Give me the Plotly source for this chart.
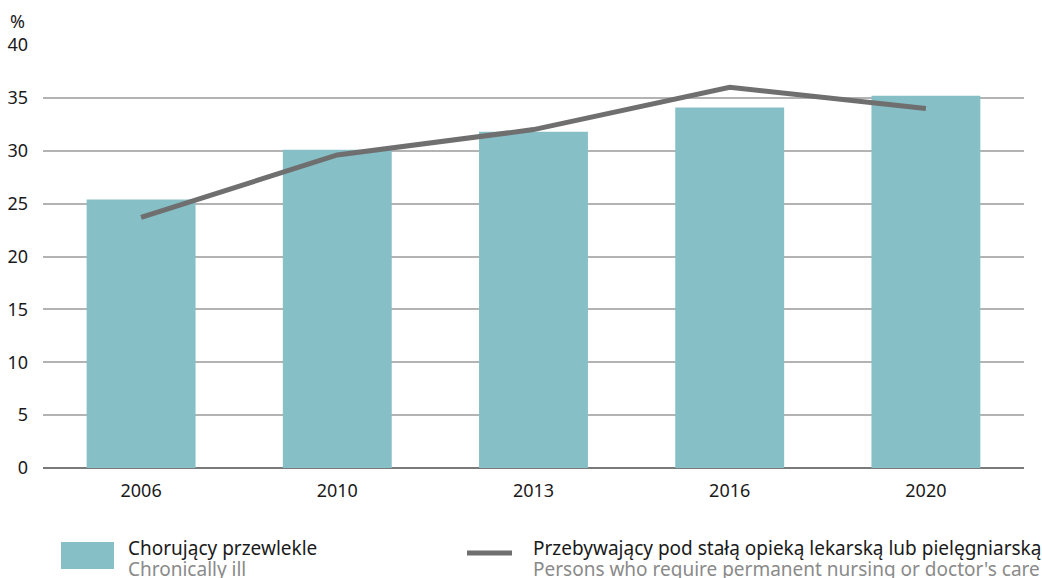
import plotly.graph_objects as go

years = ["2006", "2010", "2013", "2016", "2020"]
chronically_ill = [25.4, 30.1, 31.8, 34.1, 35.2]
permanent_care = [23.7, 29.6, 32.0, 36.0, 34.0]
y_ticks = [0, 5, 10, 15, 20, 25, 30, 35, 40]

bar_color = "#86bfc6"
line_color = "#6f6f6f"
font_family = "Noto Sans"

fig = go.Figure()
fig.add_trace(go.Bar(x=years, y=chronically_ill, marker=dict(color=bar_color, line=dict(width=0)),
                     width=0.555, showlegend=False))
fig.add_trace(go.Scatter(x=years, y=permanent_care, mode="lines",
                         line=dict(color=line_color, width=5), showlegend=False))

fig.update_layout(
    width=1042, height=578,
    margin=dict(l=43, r=18, t=45, b=110, autoexpand=False),
    plot_bgcolor="white", paper_bgcolor="white",
    font=dict(family=font_family, size=18, color="#1a1a1a"),
    bargap=0.445,
    xaxis=dict(showgrid=False, showline=False, ticks="", tickfont=dict(size=18),
               ticklabelstandoff=10, automargin=False),
    yaxis=dict(range=[0, 40], tickvals=y_ticks, showgrid=True, gridcolor="#b3b3b3", gridwidth=1.5,
               zeroline=True, zerolinecolor="#7a7a7a", zerolinewidth=1.5,
               ticks="", ticklabelstandoff=14, tickfont=dict(size=18), automargin=False),
)

fig.add_annotation(text="%", xref="paper", yref="paper", x=(8 - 43) / 981, y=1.0, yshift=24,
                   xanchor="left", yanchor="middle", showarrow=False, font=dict(size=18))

# legend
fig.add_shape(type="rect", xref="paper", yref="paper",
              x0=(61 - 43) / 981, x1=(114 - 43) / 981,
              y0=-(569 - 468) / 423, y1=-(542 - 468) / 423,
              fillcolor=bar_color, line=dict(width=0))
fig.add_annotation(text="Chorujący przewlekle", xref="paper", yref="paper",
                   x=(126 - 43) / 981, y=-(548 - 468) / 423, xanchor="left", yanchor="middle",
                   showarrow=False, font=dict(size=19, color="#1a1a1a"))
fig.add_annotation(text="Chronically ill", xref="paper", yref="paper",
                   x=(126 - 43) / 981, y=-(569 - 468) / 423, xanchor="left", yanchor="middle",
                   showarrow=False, font=dict(size=19, color="#8a8a8a"))
fig.add_shape(type="line", xref="paper", yref="paper",
              x0=(467 - 43) / 981, x1=(512 - 43) / 981,
              y0=-(553 - 468) / 423, y1=-(553 - 468) / 423,
              line=dict(color=line_color, width=5))
fig.add_annotation(text="Przebywający pod stałą opieką lekarską lub pielęgniarską", xref="paper", yref="paper",
                   x=(531 - 43) / 981, y=-(548 - 468) / 423, xanchor="left", yanchor="middle",
                   showarrow=False, font=dict(size=19, color="#1a1a1a"))
fig.add_annotation(text="Persons who require permanent nursing or doctor's care", xref="paper", yref="paper",
                   x=(531 - 43) / 981, y=-(569 - 468) / 423, xanchor="left", yanchor="middle",
                   showarrow=False, font=dict(size=19, color="#8a8a8a"))

fig.write_html("out.html", config={"displayModeBar": False},
               post_script="document.body.style.margin='0';document.body.style.overflow='hidden';")
